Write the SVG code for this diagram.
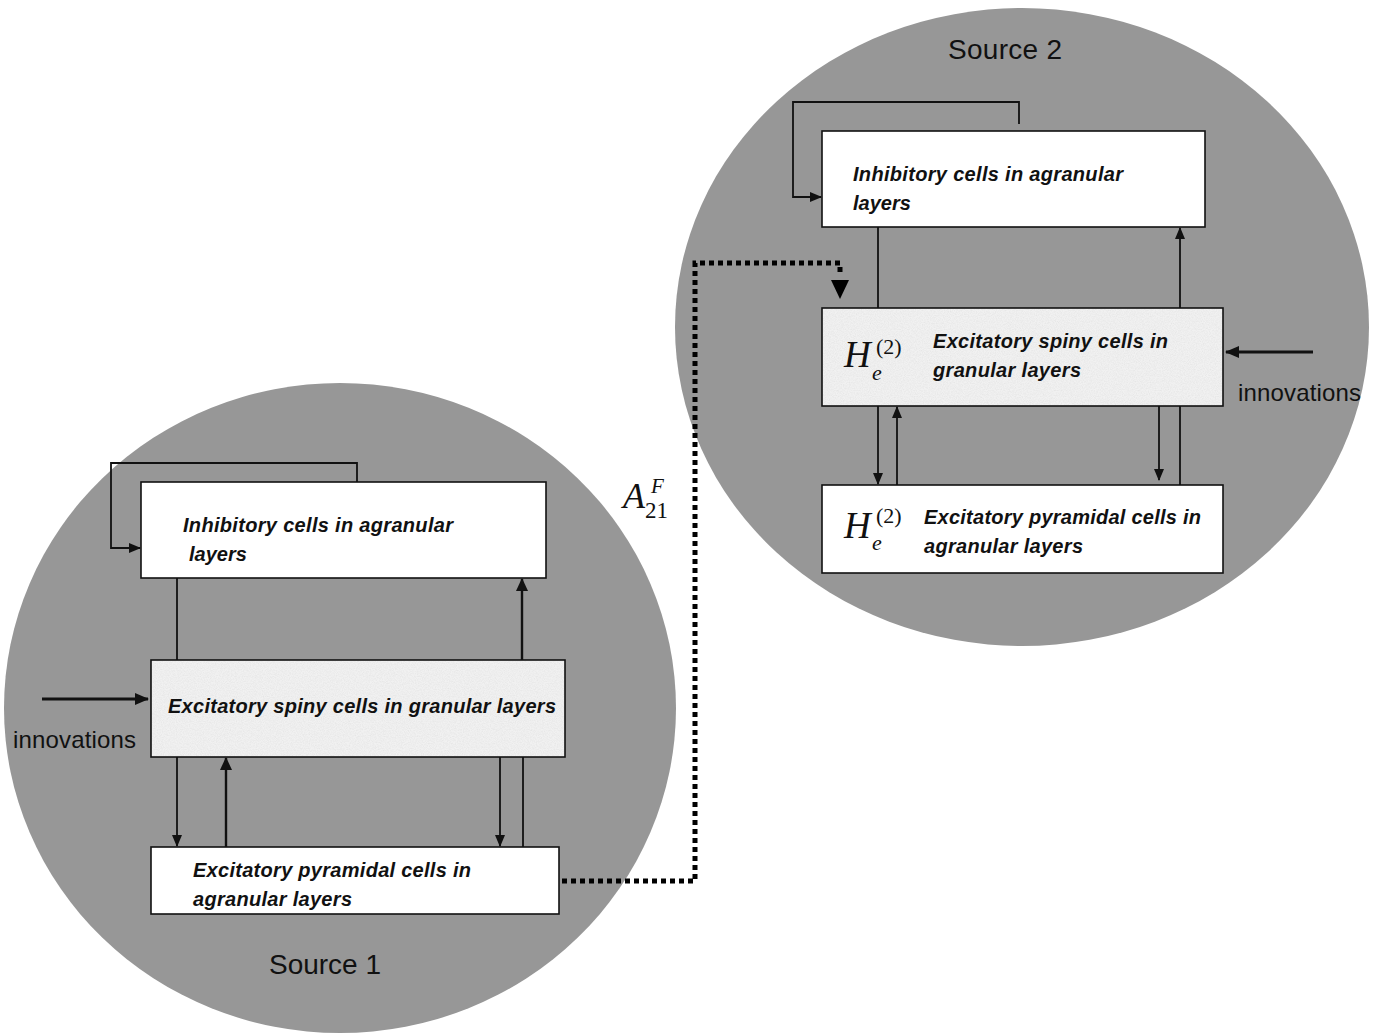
<svg xmlns="http://www.w3.org/2000/svg" width="1377" height="1034" viewBox="0 0 1377 1034">
<style>
.src{fill:#979797}
.box{fill:#ffffff;stroke:#111;stroke-width:1.6}
.tex{fill:#f1f1f1;stroke:#111;stroke-width:1.6}
.lbl{font-family:"Liberation Sans",Arial,sans-serif;font-weight:bold;font-style:italic;font-size:20px;fill:#111}
.plain{font-family:"Liberation Sans",Arial,sans-serif;font-size:24px;fill:#111}
.title{font-family:"Liberation Sans",Arial,sans-serif;font-size:28px;fill:#111}
.math{font-family:"Liberation Serif","Times New Roman",serif;fill:#111}
.ln{fill:none;stroke:#111;stroke-width:1.8}
.ar{fill:none;stroke:#111;stroke-width:1.8;marker-end:url(#ah)}
.arm{fill:none;stroke:#111;stroke-width:2.4;marker-end:url(#ahm)}
.thk{fill:none;stroke:#111;stroke-width:3.2;marker-end:url(#ahb)}
.dot{fill:none;stroke:#000;stroke-width:5;stroke-dasharray:5 4}
</style>
<defs>
<marker id="ah" markerUnits="userSpaceOnUse" markerWidth="12" markerHeight="10" refX="11" refY="5" orient="auto"><path d="M0,0 L12,5 L0,10 Z" fill="#111"/></marker>
<marker id="ahm" markerUnits="userSpaceOnUse" markerWidth="13" markerHeight="12" refX="12" refY="6" orient="auto"><path d="M0,0 L13,6 L0,12 Z" fill="#111"/></marker>
<marker id="ahb" markerUnits="userSpaceOnUse" markerWidth="14" markerHeight="12" refX="13" refY="6" orient="auto"><path d="M0,0 L14,6 L0,12 Z" fill="#111"/></marker>
<filter id="grain" x="0" y="0" width="100%" height="100%">
<feTurbulence type="fractalNoise" baseFrequency="0.85" numOctaves="3" seed="7" result="n"/>
<feColorMatrix in="n" type="matrix" values="0 0 0 0 0.45  0 0 0 0 0.45  0 0 0 0 0.45  -0.9 0 0 0 0.6" result="g"/>
<feComposite in="g" in2="SourceGraphic" operator="in"/>
</filter>
</defs>

<g id="source2-region">
<ellipse class="src" cx="1022" cy="327" rx="347" ry="319"/>
<text class="title" x="948" y="59" textLength="114">Source 2</text>
</g>
<g id="source1-region">
<ellipse class="src" cx="340" cy="708" rx="336" ry="325"/>
<text class="title" x="269" y="974" textLength="112">Source 1</text>
</g>

<g id="s2-inhibitory">
<rect class="box" x="822" y="131" width="383" height="96"/>
<text class="lbl" x="853" y="181" textLength="270">Inhibitory cells in agranular</text>
<text class="lbl" x="853" y="210">layers</text>
</g>
<g id="s2-spiny">
<rect class="tex" x="822" y="308" width="401" height="98"/>
<rect x="823" y="309" width="399" height="96" fill="#fff" opacity="0.35" filter="url(#grain)"/>
<text class="math" x="844" y="367" font-size="37" font-style="italic">H</text>
<text class="math" x="876" y="354" font-size="22">(2)</text>
<text class="math" x="872" y="380" font-size="22" font-style="italic">e</text>
<text class="lbl" x="933" y="348" textLength="235">Excitatory spiny cells in</text>
<text class="lbl" x="933" y="377" textLength="148">granular layers</text>
</g>
<g id="s2-pyramidal">
<rect class="box" x="822" y="485" width="401" height="88"/>
<text class="math" x="844" y="538" font-size="37" font-style="italic">H</text>
<text class="math" x="876" y="523" font-size="22">(2)</text>
<text class="math" x="872" y="550" font-size="22" font-style="italic">e</text>
<text class="lbl" x="924" y="524" textLength="277">Excitatory pyramidal cells in</text>
<text class="lbl" x="924" y="553" textLength="159">agranular layers</text>
</g>

<g id="s1-inhibitory">
<rect class="box" x="141" y="482" width="405" height="96"/>
<text class="lbl" x="183" y="532" textLength="270">Inhibitory cells in agranular</text>
<text class="lbl" x="189" y="561">layers</text>
</g>
<g id="s1-spiny">
<rect class="tex" x="151" y="660" width="414" height="97"/>
<rect x="152" y="661" width="412" height="95" fill="#fff" opacity="0.35" filter="url(#grain)"/>
<text class="lbl" x="168" y="713" textLength="388">Excitatory spiny cells in granular layers</text>
</g>
<g id="s1-pyramidal">
<rect class="box" x="151" y="847" width="408" height="67"/>
<text class="lbl" x="193" y="877" textLength="278">Excitatory pyramidal cells in</text>
<text class="lbl" x="193" y="906" textLength="159">agranular layers</text>
</g>

<g id="labels">
<text class="plain" x="1238" y="401" textLength="123">innovations</text>
<text class="plain" x="13" y="748" textLength="123">innovations</text>
<text class="math" x="623" y="508" font-size="36" font-style="italic">A</text>
<text class="math" x="651" y="493" font-size="21" font-style="italic">F</text>
<text class="math" x="645" y="518" font-size="23">21</text>
</g>

<g id="connectors">
<!-- Source 2 -->
<path class="ar" d="M1019,124 V102 H793 V197 H821"/>
<path class="ln" d="M878,227 V308"/>
<path class="ar" d="M1180,308 V228"/>
<path class="ar" d="M878,406 V484"/>
<path class="ar" d="M897,485 V407"/>
<path class="ar" d="M1159,406 V480"/>
<path class="ln" d="M1180,406 V485"/>
<path class="thk" d="M1313,352 H1226"/>
<!-- Source 1 -->
<path class="ar" d="M357,482 V463 H111 V548 H140"/>
<path class="ln" d="M177,578 V660"/>
<path class="arm" d="M522,660 V579"/>
<path class="ar" d="M177,757 V846"/>
<path class="arm" d="M226,847 V758"/>
<path class="ar" d="M500,757 V846"/>
<path class="ln" d="M523,757 V847"/>
<path class="thk" d="M42,699 H148"/>
<!-- inter-source -->
<path class="dot" d="M562,881 H695 V263 H840 V276"/>
<path d="M831,280 L849,280 L840,299 Z" fill="#000"/>
</g>
</svg>
